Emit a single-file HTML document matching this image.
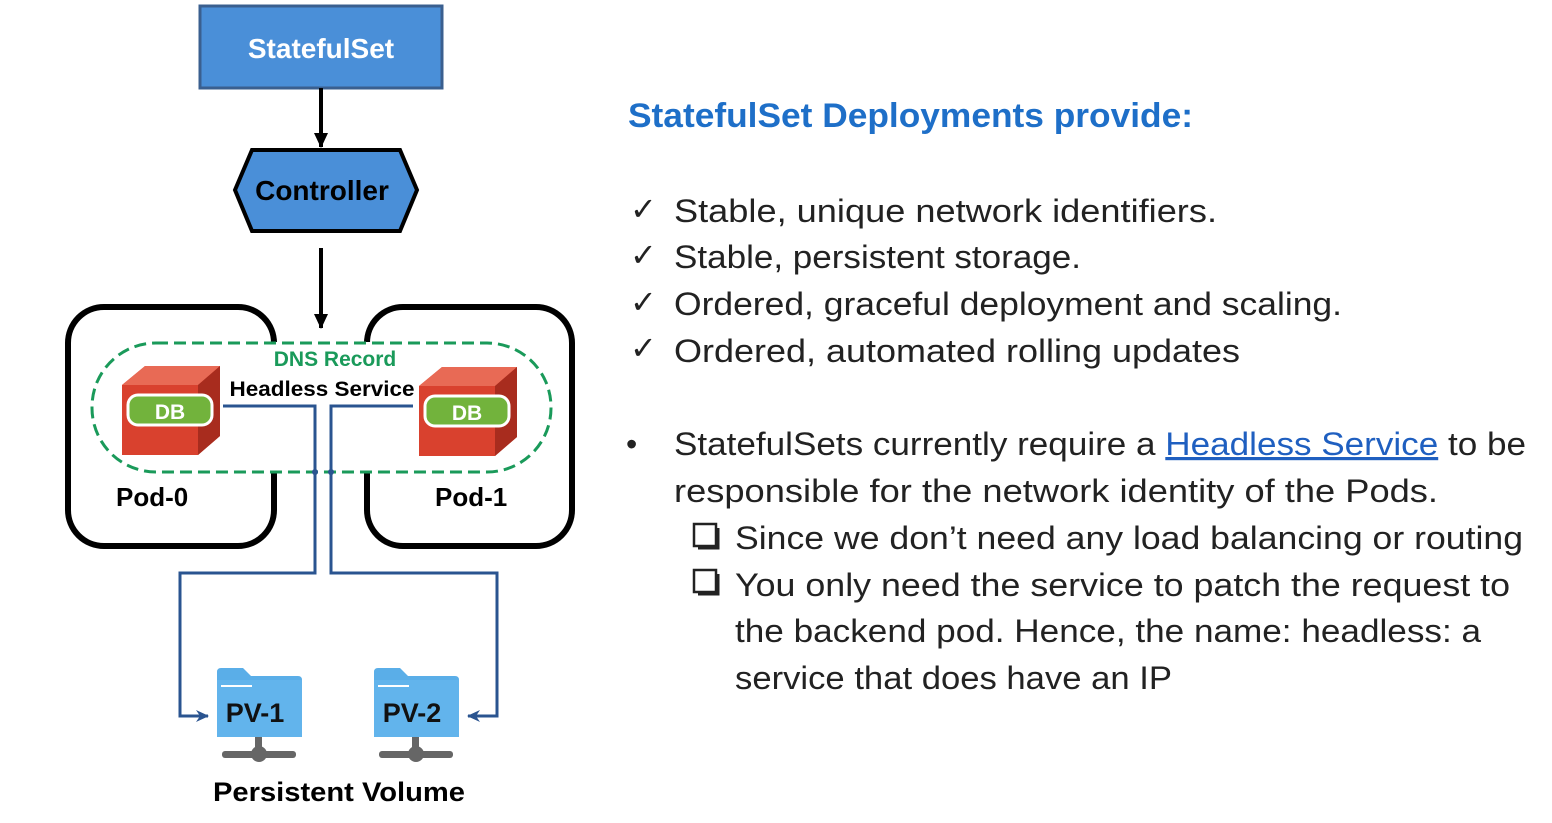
<!DOCTYPE html>
<html><head><meta charset="utf-8"><style>
html,body{margin:0;padding:0;background:#fff;}
svg{display:block;}
text{font-family:"Liberation Sans",sans-serif;}
</style></head><body>
<svg width="1552" height="823" viewBox="0 0 1552 823" xmlns="http://www.w3.org/2000/svg">
<defs>
<marker id="ab" markerWidth="16" markerHeight="16" refX="14" refY="8" orient="auto" markerUnits="userSpaceOnUse"><path d="M0,1 L15,8 L0,15 z" fill="#000"/></marker>
<marker id="bb" markerWidth="14" markerHeight="14" refX="12" refY="7" orient="auto" markerUnits="userSpaceOnUse"><path d="M0,1 L13,7 L0,13 L4,7 z" fill="#2a5490"/></marker>
</defs>
<rect x="200" y="6" width="242" height="82" fill="#4a8fd8" stroke="#3a5f8f" stroke-width="3"/>
<text x="321" y="58" font-size="28" font-weight="bold" fill="#fff" text-anchor="middle">StatefulSet</text>
<line x1="321" y1="88" x2="321" y2="147" stroke="#000" stroke-width="4" marker-end="url(#ab)"/>
<polygon points="235,190 252,150 400,150 417,190 400,231 252,231" fill="#4a8fd8" stroke="#000" stroke-width="4"/>
<text x="322" y="200" font-size="28" font-weight="bold" fill="#000" text-anchor="middle">Controller</text>
<line x1="321" y1="248" x2="321" y2="328" stroke="#000" stroke-width="4" marker-end="url(#ab)"/>
<rect x="68" y="307" width="206" height="239" rx="36" fill="none" stroke="#000" stroke-width="6"/>
<rect x="367" y="307" width="205" height="239" rx="36" fill="none" stroke="#000" stroke-width="6"/>
<rect x="265" y="342" width="112" height="130" fill="#fff"/>
<rect x="92" y="343" width="459" height="129" rx="64" fill="none" stroke="#1a9a5a" stroke-width="3" stroke-dasharray="12 6"/>
<text x="335" y="366" font-size="21" font-weight="bold" fill="#1a9a5a" text-anchor="middle">DNS Record</text>
<text x="322" y="396" font-size="21" font-weight="bold" fill="#000" text-anchor="middle" textLength="185" lengthAdjust="spacingAndGlyphs">Headless Service</text>
<g>
<polygon points="122,385 145,366 220,366 220,436 198,455 122,455" fill="#d9412e"/>
<polygon points="122,385 145,366 220,366 198,385" fill="#e86a55"/>
<polygon points="198,385 220,366 220,436 198,455" fill="#a82c1e"/>
<rect x="128" y="395" width="84" height="30" rx="10" fill="#72b33c" stroke="#fff" stroke-width="3"/>
<text x="170" y="419" font-size="21" font-weight="bold" fill="#fff" text-anchor="middle">DB</text>
</g>
<g transform="translate(297,1)">
<polygon points="122,385 145,366 220,366 220,436 198,455 122,455" fill="#d9412e"/>
<polygon points="122,385 145,366 220,366 198,385" fill="#e86a55"/>
<polygon points="198,385 220,366 220,436 198,455" fill="#a82c1e"/>
<rect x="128" y="395" width="84" height="30" rx="10" fill="#72b33c" stroke="#fff" stroke-width="3"/>
<text x="170" y="419" font-size="21" font-weight="bold" fill="#fff" text-anchor="middle">DB</text>
</g>
<text x="116" y="506" font-size="26" font-weight="bold">Pod-0</text>
<text x="435" y="506" font-size="26" font-weight="bold">Pod-1</text>
<polyline points="223,406 315,406 315,573 180,573 180,716 208,716" fill="none" stroke="#2a5490" stroke-width="3" marker-end="url(#bb)"/>
<polyline points="413,406 331,406 331,573 497,573 497,716 468,716" fill="none" stroke="#2a5490" stroke-width="3" marker-end="url(#bb)"/>
<circle cx="315" cy="472" r="3" fill="#2a5490"/><circle cx="331" cy="472" r="3" fill="#2a5490"/>
<g>
<path d="M217,672 q0,-4 4,-4 h22 l8,8 h47 q4,0 4,4 v53 q0,4 -4,4 h-77 q-4,0 -4,-4 z" fill="#5aaee8"/>
<rect x="217" y="680" width="85" height="57" fill="#62b4ec"/>
<line x1="221" y1="686" x2="252" y2="686" stroke="#fff" stroke-width="2"/>
<text x="255" y="722" font-size="27" font-weight="bold" text-anchor="middle" fill="#111">PV-1</text>
<rect x="255" y="737" width="7" height="16" fill="#666"/>
<rect x="222" y="751" width="74" height="7" rx="3" fill="#666"/>
<circle cx="259" cy="754" r="8" fill="#666"/>
</g>
<g transform="translate(157,0)">
<path d="M217,672 q0,-4 4,-4 h22 l8,8 h47 q4,0 4,4 v53 q0,4 -4,4 h-77 q-4,0 -4,-4 z" fill="#5aaee8"/>
<rect x="217" y="680" width="85" height="57" fill="#62b4ec"/>
<line x1="221" y1="686" x2="252" y2="686" stroke="#fff" stroke-width="2"/>
<text x="255" y="722" font-size="27" font-weight="bold" text-anchor="middle" fill="#111">PV-2</text>
<rect x="255" y="737" width="7" height="16" fill="#666"/>
<rect x="222" y="751" width="74" height="7" rx="3" fill="#666"/>
<circle cx="259" cy="754" r="8" fill="#666"/>
</g>
<text x="339" y="801" font-size="27" font-weight="bold" text-anchor="middle" textLength="252" lengthAdjust="spacingAndGlyphs">Persistent Volume</text>
<text x="628" y="127" font-size="34" font-weight="bold" fill="#1e6fc8" textLength="565" lengthAdjust="spacingAndGlyphs">StatefulSet Deployments provide:</text>
<g font-size="32" fill="#222">
<text x="630" y="220">✓</text>
<text x="674" y="222" textLength="543" lengthAdjust="spacingAndGlyphs">Stable, unique network identifiers.</text>
<text x="630" y="266">✓</text>
<text x="674" y="268" textLength="407" lengthAdjust="spacingAndGlyphs">Stable, persistent storage.</text>
<text x="630" y="313">✓</text>
<text x="674" y="315" textLength="668" lengthAdjust="spacingAndGlyphs">Ordered, graceful deployment and scaling.</text>
<text x="630" y="359">✓</text>
<text x="674" y="362" textLength="566" lengthAdjust="spacingAndGlyphs">Ordered, automated rolling updates</text>
<text x="626" y="455">•</text>
<text x="674" y="455" textLength="852" lengthAdjust="spacingAndGlyphs">StatefulSets currently require a <tspan fill="#1f5fc0" text-decoration="underline">Headless Service</tspan> to be</text>
<text x="674" y="502" textLength="764" lengthAdjust="spacingAndGlyphs">responsible for the network identity of the Pods.</text>
<text x="735" y="549" textLength="788" lengthAdjust="spacingAndGlyphs">Since we don’t need any load balancing or routing</text>
<text x="735" y="596" textLength="775" lengthAdjust="spacingAndGlyphs">You only need the service to patch the request to</text>
<text x="735" y="642" textLength="746" lengthAdjust="spacingAndGlyphs">the backend pod. Hence, the name: headless: a</text>
<text x="735" y="689" textLength="437" lengthAdjust="spacingAndGlyphs">service that does have an IP</text>
</g>
<g fill="none" stroke="#222" stroke-width="2.5">
<rect x="694" y="524" width="22" height="22"/><path d="M718,528 v20 h-20" stroke-width="3"/>
<rect x="694" y="570" width="22" height="22"/><path d="M718,574 v20 h-20" stroke-width="3"/>
</g>
</svg>
</body></html>
